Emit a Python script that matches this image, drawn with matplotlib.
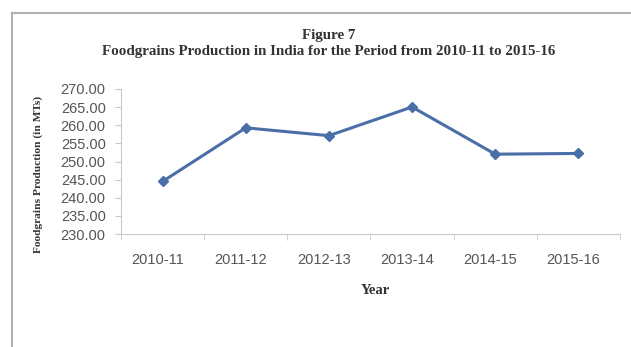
import matplotlib.pyplot as plt
from matplotlib.lines import Line2D
from matplotlib.transforms import ScaledTranslation

years = ["2010-11", "2011-12", "2012-13", "2013-14", "2014-15", "2015-16"]
production = [244.49, 259.29, 257.13, 265.04, 252.02, 252.22]
yticks = [230, 235, 240, 245, 250, 255, 260, 265, 270]

W, H = 631, 347
fig = plt.figure(figsize=(W / 100, H / 100), dpi=100)

# outer chart frame (open to the right and bottom)
fig.add_artist(Line2D([12 / W, 12 / W], [0, 1 - 13 / H], color="#b0b0b0", lw=1.5))
fig.add_artist(Line2D([12 / W, 1], [1 - 13 / H, 1 - 13 / H], color="#b0b0b0", lw=1.5))

left, right, top, bottom = 121, 620, 89, 234
ax = fig.add_axes([left / W, 1 - bottom / H, (right - left) / W, (bottom - top) / H])

x = list(range(len(years)))
ax.plot(x, production, color="#4a6fa8", lw=2.2, marker="D", markersize=5,
        markerfacecolor="#4a6fa8", markeredgecolor="#4a6fa8")

ax.set_xlim(-0.5, len(years) - 0.5)
ax.set_ylim(230, 270)
ax.set_yticks(yticks)
ax.set_yticklabels([f"{v:.2f}" for v in yticks], fontsize=10.5, color="#555555",
                   family="Liberation Sans")
ax.set_xticks(x)
ax.set_xticklabels(years, fontsize=10.5, color="#555555", family="Liberation Sans")
ax.set_xticks([i - 0.5 for i in range(len(years) + 1)], minor=True)
ax.tick_params(axis="x", which="major", length=0, pad=14)
ax.tick_params(axis="x", which="minor", length=4, color="#c8c8c8")
ax.tick_params(axis="y", length=4, color="#c8c8c8", pad=7)

# category labels sit a little left of their markers
shift = ScaledTranslation(-5 / 100, 0, fig.dpi_scale_trans)
for lbl in ax.get_xticklabels():
    lbl.set_transform(lbl.get_transform() + shift)

for side in ["top", "right"]:
    ax.spines[side].set_visible(False)
for side in ["left", "bottom"]:
    ax.spines[side].set_color("#c8c8c8")

fig.text(375 / W, 1 - 290 / H, "Year", ha="center", va="center", fontsize=10.5,
         fontweight="bold", family="Liberation Serif", color="#333333")
fig.text(38 / W, 1 - 174 / H, "Foodgrains Production (in MTs)", rotation=90,
         ha="center", va="center", fontsize=8.2, fontweight="bold",
         family="Liberation Serif", color="#333333")

fig.text(329 / W, 1 - 35 / H, "Figure 7", ha="center", va="center", fontsize=10.8,
         fontweight="bold", family="Liberation Serif", color="#333333")
fig.text(329 / W, 1 - 52 / H,
         "Foodgrains Production in India for the Period from 2010-11 to 2015-16",
         ha="center", va="center", fontsize=10.8, fontweight="bold",
         family="Liberation Serif", color="#333333")

fig.savefig("out.png", dpi=100)
